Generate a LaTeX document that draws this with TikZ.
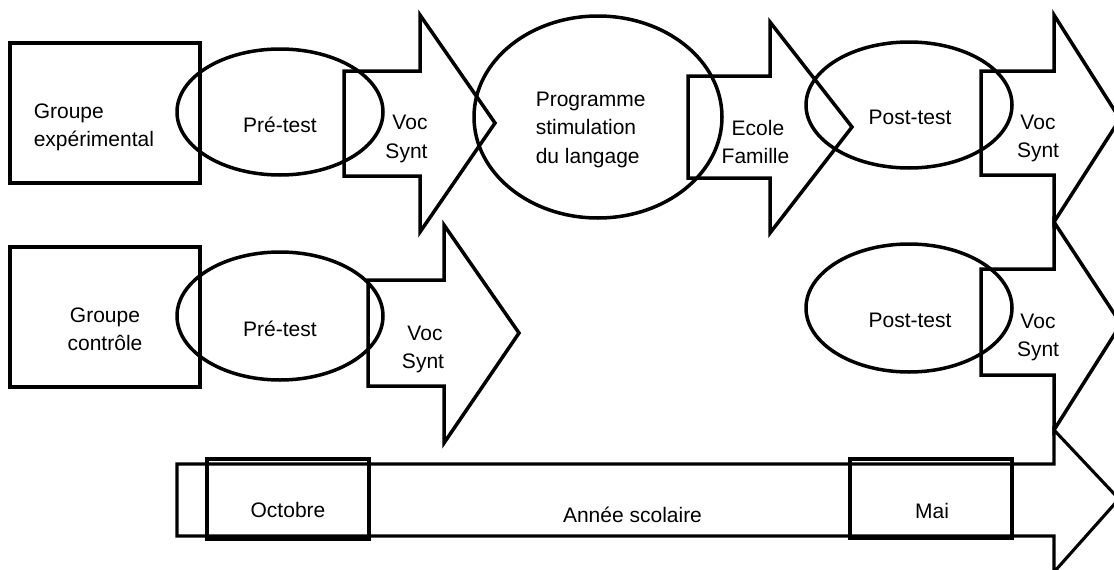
\documentclass[tikz,border=0pt]{standalone}
\usepackage{fontspec}
\setmainfont{Liberation Sans}
\begin{document}
\begin{tikzpicture}[x=1pt,y=-1pt,line width=3.5pt,
  lbl/.style={inner sep=0pt,anchor=base,font=\fontsize{21}{28}\selectfont},
  thinline/.style={line width=3.1pt},
  monthbox/.style={line width=4pt}]
\useasboundingbox (0,0) rectangle (1114,570);
\fill[white] (0,0) rectangle (1114,570);
\clip (0,0) rectangle (1114,570);

% group boxes
\draw (10,43) rectangle (200,183);
\draw (10,247) rectangle (200,387);

% ellipses
\draw (280,112) ellipse [x radius=103,y radius=63];
\draw (280,316) ellipse [x radius=103,y radius=64];
\draw (598,117) ellipse [x radius=124,y radius=101];
\draw (909,105) ellipse [x radius=103,y radius=63];
\draw (909,308) ellipse [x radius=103,y radius=64];

% block arrows
\draw (344,71) -- (420,71) -- (420,15) -- (495,123) -- (420,232) -- (420,176) -- (344,176) -- cycle;
\draw (688,76) -- (770,76) -- (770,22) -- (852,127) -- (770,233) -- (770,178) -- (688,178) -- cycle;
\draw (981,71) -- (1054,71) -- (1054,15) -- (1120,119) -- (1054,222) -- (1054,175) -- (981,175) -- cycle;
\draw (368,280) -- (444,280) -- (444,225) -- (519,333) -- (444,443) -- (444,386) -- (368,386) -- cycle;
\draw (981,269) -- (1054,269) -- (1054,222) -- (1121,324) -- (1054,430) -- (1054,375) -- (981,375) -- cycle;

% timeline arrow
\draw[thinline] (177,464) -- (1054,464) -- (1054,430) -- (1119,499) -- (1054,572) -- (1054,536) -- (177,536) -- cycle;
\draw[monthbox] (207,459) rectangle (369,539);
\draw[monthbox] (850,459) rectangle (1012,538);

% texts
\node[lbl,anchor=base west] (ge1) at (32,118) {Groupe};
\node[lbl,anchor=base west] (ge2) at (32,146) {expérimental};
\node[lbl] (gc1) at (105,322) {Groupe};
\node[lbl] (gc2) at (105,350) {contrôle};
\node[lbl] (pre1) at (280,132) {Pré-test};
\node[lbl] (pre2) at (280,336) {Pré-test};
\node[lbl] (v1a) at (410,129) {Voc};
\node[lbl] (v1b) at (406.5,158) {Synt};
\node[lbl] (v4a) at (425,340) {Voc};
\node[lbl] (v4b) at (423,368) {Synt};
\node[lbl,anchor=base west] (pg1) at (534,106) {Programme};
\node[lbl,anchor=base west] (pg2) at (534,134) {stimulation};
\node[lbl,anchor=base west] (pg3) at (534,163) {du langage};
\node[lbl] (ec) at (758,135) {Ecole};
\node[lbl] (fam) at (755.5,163) {Famille};
\node[lbl] (post1) at (910,124) {Post-test};
\node[lbl] (post2) at (910,327) {Post-test};
\node[lbl] (v3a) at (1038,129) {Voc};
\node[lbl] (v3b) at (1038,157) {Synt};
\node[lbl] (v5a) at (1038,328) {Voc};
\node[lbl] (v5b) at (1038,356) {Synt};
\node[lbl] (oct) at (288,517) {Octobre};
\node[lbl] (annee) at (632.5,522) {Année scolaire};
\node[lbl] (mai) at (932,518) {Mai};
\end{tikzpicture}
\end{document}
